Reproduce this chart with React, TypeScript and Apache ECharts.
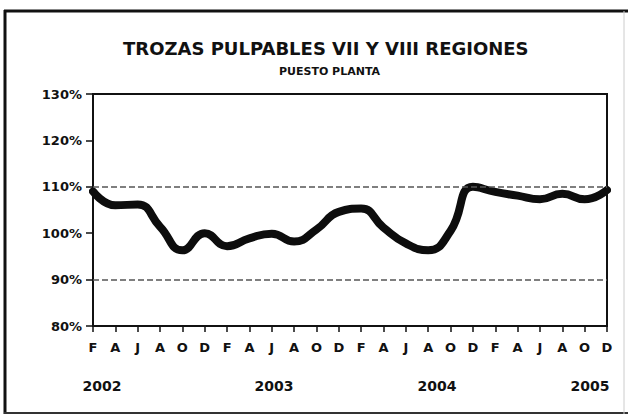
import React, { useEffect, useRef } from "react";
import * as echarts from "echarts";

const monthLabels = ["F","A","J","A","O","D","F","A","J","A","O","D","F","A","J","A","O","D","F","A","J","A","O","D"];
const indexValues = [109, 106, 106.2, 101.4, 96.3, 100, 97.2, 98.9, 99.9, 98.2, 100.8, 104.6, 105.3, 101.2, 97.8, 96.3, 100.5, 110, 108.9, 108.1, 107.3, 108.5, 107.3, 109.3];
const yearLabels = ["2002", "2003", "2004", "2005"];
const yearCenters = [102, 274, 437, 590];
const referenceLines = [90, 110];

const FONT = "DejaVu Sans";

export default function App() {
  const ref = useRef<HTMLDivElement>(null);
  useEffect(() => {
    document.body.style.margin = "0";
    if (!ref.current) return;
    const chart = echarts.init(ref.current, null, { renderer: "svg" });
    chart.setOption({
      animation: false,
      backgroundColor: "#fff",
      title: [
        {
          text: "TROZAS PULPABLES VII Y VIII REGIONES",
          left: 118,
          top: 34,
          textStyle: { fontFamily: FONT, fontSize: 18, fontWeight: "bold", color: "#111" },
        },
        {
          text: "PUESTO PLANTA",
          left: 274,
          top: 61,
          textStyle: { fontFamily: FONT, fontSize: 11, fontWeight: "bold", color: "#111" },
        },
      ],
      grid: {
        left: 93,
        right: 21,
        top: 94,
        bottom: 88,
        show: true,
        borderColor: "#111",
        borderWidth: 2,
        backgroundColor: "transparent",
      },
      xAxis: {
        type: "category",
        data: monthLabels,
        boundaryGap: false,
        axisLine: { lineStyle: { color: "#111", width: 2 } },
        axisTick: { show: true, length: 6, interval: 0, lineStyle: { color: "#111", width: 1.5 } },
        axisLabel: {
          interval: 0,
          margin: 15,
          fontFamily: FONT,
          fontSize: 13,
          fontWeight: "bold",
          color: "#111",
        },
        splitLine: { show: false },
      },
      yAxis: {
        type: "value",
        min: 80,
        max: 130,
        interval: 10,
        axisLine: { show: true, lineStyle: { color: "#111", width: 2 } },
        axisTick: { show: true, length: 7, lineStyle: { color: "#111", width: 1.5 } },
        axisLabel: {
          formatter: "{value}%",
          margin: 11,
          fontFamily: FONT,
          fontSize: 13,
          fontWeight: "bold",
          color: "#111",
        },
        splitLine: { show: false },
      },
      series: [
        {
          type: "line",
          data: indexValues,
          smooth: 0.5,
          symbol: "none",
          lineStyle: { color: "#0d0d0d", width: 8, cap: "round", join: "round" },
          markLine: {
            silent: true,
            symbol: "none",
            label: { show: false },
            lineStyle: { color: "#555", type: [6, 3], width: 1.5 },
            data: referenceLines.map((v) => ({ yAxis: v })),
          },
          z: 3,
        },
      ],
      graphic: [
        ...yearLabels.map((y, i) => ({
          type: "text",
          x: yearCenters[i],
          y: 386,
          style: {
            text: y,
            fontFamily: FONT,
            fontSize: 14,
            fontWeight: "bold",
            fill: "#111",
            textAlign: "center",
            textVerticalAlign: "middle",
          },
        })),
        { type: "line", shape: { x1: 5, y1: 10, x2: 5, y2: 414 }, style: { stroke: "#111", lineWidth: 3 } },
        { type: "line", shape: { x1: 4, y1: 11, x2: 628, y2: 11 }, style: { stroke: "#111", lineWidth: 3 } },
        { type: "line", shape: { x1: 4, y1: 413, x2: 628, y2: 413 }, style: { stroke: "#333", lineWidth: 2 } },
        { type: "line", shape: { x1: 624, y1: 11, x2: 624, y2: 414 }, style: { stroke: "#ccc", lineWidth: 1 } },
      ],
    });
    return () => chart.dispose();
  }, []);
  return <div ref={ref} style={{ width: 628, height: 414 }} />;
}
